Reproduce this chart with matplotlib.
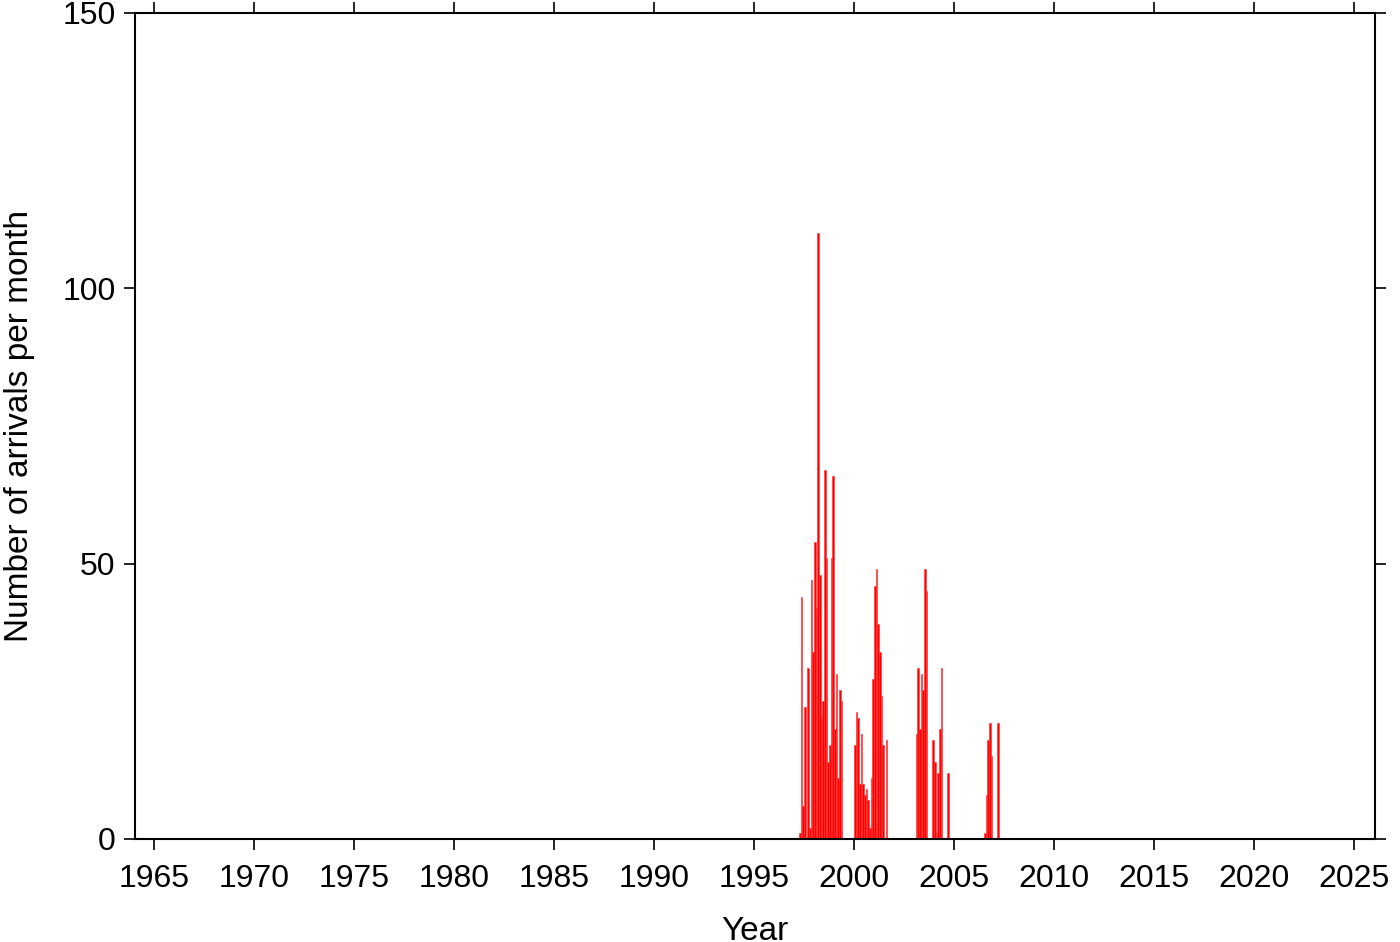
import numpy as np
import matplotlib
matplotlib.use("Agg")
import matplotlib.pyplot as plt

plt.rcParams["font.family"] = ["Liberation Sans", "DejaVu Sans"]

# monthly arrival counts, one list per year (Jan..Dec)
y1997 = [0, 0, 0, 1, 44, 6, 24, 0, 31, 2, 47, 34]
y1998 = [54, 42, 110, 48, 22, 25, 67, 51, 14, 17, 51, 66]
y1999 = [20, 30, 11, 27, 25, 0, 0, 0, 0, 0, 0, 0]
y2000 = [17, 23, 22, 10, 19, 10, 8, 9, 7, 2, 11, 29]
y2001 = [46, 49, 39, 34, 26, 17, 0, 18, 0, 0, 0, 0]
y2002 = [0] * 12
y2003 = [0, 19, 31, 20, 30, 27, 49, 45, 0, 0, 0, 18]
y2004 = [14, 1, 12, 20, 31, 0, 0, 0, 12, 0, 0, 0]
y2005 = [0] * 12
y2006 = [0, 0, 0, 0, 0, 0, 1, 8, 18, 21, 15, 0]
y2007 = [0, 0, 21, 0, 0, 0, 0, 0, 0, 0, 0, 0]

counts = np.array(y1997 + y1998 + y1999 + y2000 + y2001 + y2002 +
                  y2003 + y2004 + y2005 + y2006 + y2007, dtype=float)
months = 1997 + np.arange(len(counts)) / 12.0

fig = plt.figure(figsize=(14, 9.42), dpi=100)
ax = fig.add_axes([135 / 1400, 1 - 839 / 942, 1240 / 1400, 826 / 942])

ax.bar(months, counts, width=1 / 12 * 0.9, align="edge",
       color="#ff0000", edgecolor="#ff3030", linewidth=0.4)

ax.set_xlim(1964.05, 2026.05)
ax.set_ylim(0, 150)
ax.set_xticks(np.arange(1965, 2026, 5))
ax.set_yticks([0, 50, 100, 150])

for s in ax.spines.values():
    s.set_linewidth(1.5)
ax.tick_params(direction="out", length=8, width=1.2, labelsize=23,
               top=True, right=True)
ax.tick_params(axis="x", pad=10)
ax.tick_params(axis="y", pad=6)

ax.set_xlabel("Year", fontsize=24, labelpad=16)
ax.set_ylabel("Number of arrivals per month", fontsize=24, labelpad=20)

fig.savefig("out.png", dpi=100)
